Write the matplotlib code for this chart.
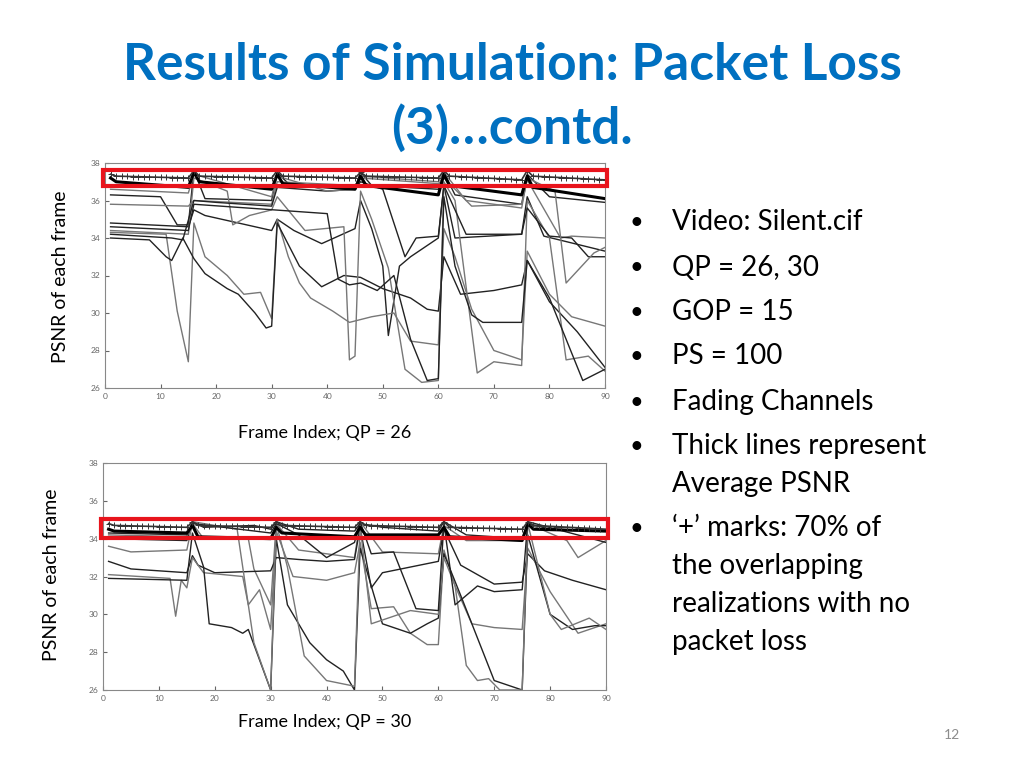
import matplotlib
matplotlib.use("Agg")
from matplotlib import pyplot as plt
from matplotlib.patches import Rectangle
import numpy as np

plt.rcParams['font.family'] = ['Lato', 'DejaVu Sans']

title_lines = ["Results of Simulation: Packet Loss", "(3)\u2026contd."]
bullets = [["Video: Silent.cif"], ["QP = 26, 30"], ["GOP = 15"], ["PS = 100"], ["Fading Channels"],
           ["Thick lines represent", "Average PSNR"],
           ["\u2018+\u2019 marks: 70% of", "the overlapping", "realizations with no", "packet loss"]]
xlabels = ["Frame Index; QP = 26", "Frame Index; QP = 30"]
ylabel = "PSNR of each frame"
red_box = [(36.75, 37.65), (34.05, 35.05)]

# QP = 26 realizations: (frames, psnr)
top_avg = ([1, 2, 15, 16, 17, 30, 31, 32, 45, 46, 47, 60, 61, 62, 75, 76, 77, 90],
           [37.2, 37.0, 36.7, 37.5, 37.0, 36.6, 37.4, 36.9, 36.6, 37.3, 36.8, 36.3, 37.4, 36.8, 36.3, 37.3, 36.7, 36.1])
top_plus = ([1, 2, 15, 16, 17, 30, 31, 32, 45, 46, 47, 60, 61, 62, 75, 76, 77, 90],
            [37.4, 37.3, 37.2, 37.6, 37.3, 37.2, 37.6, 37.3, 37.2, 37.5, 37.3, 37.2, 37.6, 37.3, 37.1, 37.6, 37.3, 37.1])
top_lines = [
    ([1, 10, 13, 15, 16, 18, 30, 31, 33, 45, 46, 48, 60, 61, 63, 75, 76, 80, 90],
     [36.3, 36.2, 34.7, 34.7, 37.6, 36.1, 36.0, 37.5, 36.9, 36.7, 37.5, 36.8, 36.6, 37.5, 36.3, 35.8, 37.4, 36.2, 35.9]),
    ([1, 15, 16, 30, 31, 45, 46, 60, 61, 66, 75, 76, 82, 84, 90],
     [35.8, 35.7, 36.0, 35.8, 37.0, 36.8, 37.2, 36.9, 37.2, 35.7, 35.8, 37.1, 34.0, 34.1, 34.0]),
    ([1, 15, 16, 18, 30, 31, 34, 39, 45, 46, 48, 50, 51, 53, 55, 60, 61, 63, 75, 76, 79, 90],
     [34.8, 34.6, 35.5, 35.2, 34.4, 35.0, 34.4, 33.7, 34.5, 36.0, 34.5, 32.5, 28.8, 32.5, 33.0, 34.0, 36.8, 34.0, 34.2, 36.2, 34.1, 33.3]),
    ([1, 11, 13, 15, 16, 18, 22, 25, 28, 30, 31, 33, 35, 37, 41, 44, 48, 52, 55, 60, 61, 63, 66, 70, 75, 76, 80, 84, 90],
     [34.3, 34.2, 30.1, 27.4, 34.8, 33.0, 32.0, 31.0, 31.1, 29.7, 35.0, 33.0, 31.6, 30.8, 30.1, 29.5, 29.8, 30.0, 28.5, 28.3, 34.5, 33.0, 30.2, 28.0, 27.5, 33.3, 31.0, 29.8, 29.3]),
    ([1, 8, 11, 12, 14, 16, 18, 22, 24, 27, 29, 30, 31, 35, 39, 43, 46, 50, 55, 58, 60, 61, 64, 70, 75, 76, 80, 85, 90],
     [34.0, 33.9, 33.0, 32.8, 34.0, 32.9, 32.1, 31.3, 31.0, 30.0, 29.2, 29.3, 34.8, 32.5, 31.4, 32.0, 31.9, 31.3, 30.8, 30.2, 30.1, 33.0, 31.0, 31.2, 31.5, 32.8, 30.6, 29.0, 27.1]),
    ([1, 15, 16, 22, 23, 26, 30, 31, 36, 43, 44, 45, 46, 48, 51, 54, 57, 60, 61, 63, 67, 70, 75, 76, 80, 83, 87, 90],
     [34.4, 34.2, 37.2, 36.5, 34.7, 35.2, 35.5, 36.2, 34.4, 34.6, 27.5, 27.7, 36.5, 35.0, 32.4, 27.0, 26.3, 26.4, 37.0, 36.0, 26.8, 27.4, 27.2, 36.0, 34.0, 27.5, 27.7, 26.9]),
    ([1, 12, 14, 16, 20, 30, 31, 40, 45, 46, 50, 54, 56, 60, 61, 65, 75, 76, 80, 84, 87, 90],
     [34.2, 34.0, 33.9, 36.0, 35.9, 35.7, 36.7, 36.5, 36.6, 37.0, 36.6, 33.0, 34.0, 34.1, 36.8, 34.2, 34.2, 35.6, 34.1, 34.0, 33.0, 33.0]),
    ([1, 15, 16, 30, 31, 40, 45, 46, 60, 61, 65, 75, 76, 81, 83, 88, 90],
     [36.6, 36.4, 37.4, 36.2, 37.3, 36.5, 36.6, 37.3, 37.0, 37.5, 36.0, 35.6, 37.2, 36.5, 31.6, 33.2, 33.5]),
    ([1, 15, 16, 40, 42, 44, 46, 49, 52, 55, 58, 60, 61, 63, 66, 68, 75, 76, 80, 86, 90],
     [34.6, 34.4, 35.8, 35.3, 31.8, 31.5, 31.6, 31.2, 32.0, 28.6, 26.4, 26.5, 36.2, 32.5, 29.9, 29.5, 29.5, 32.8, 30.8, 26.4, 27.0]),
]

# QP = 30 realizations
bot_avg = ([1, 2, 15, 16, 17, 30, 31, 32, 45, 46, 47, 60, 61, 62, 75, 76, 77, 90],
           [34.5, 34.4, 34.3, 34.7, 34.1, 34.0, 34.6, 34.3, 34.1, 34.6, 34.2, 34.2, 34.6, 34.1, 33.9, 34.8, 34.5, 34.4])
bot_plus = ([1, 2, 15, 16, 17, 30, 31, 32, 45, 46, 47, 60, 61, 62, 75, 76, 77, 90],
            [34.8, 34.7, 34.6, 34.9, 34.7, 34.6, 34.9, 34.7, 34.6, 34.9, 34.7, 34.6, 34.9, 34.6, 34.5, 34.9, 34.7, 34.5])
bot_lines = [
    ([1, 15, 16, 18, 27, 30, 31, 35, 45, 46, 50, 60, 61, 65, 75, 76, 80, 90],
     [34.0, 33.9, 34.9, 34.6, 34.7, 34.5, 34.9, 34.5, 34.4, 34.8, 34.6, 34.4, 34.9, 34.2, 34.0, 34.8, 34.5, 34.4]),
    ([1, 5, 15, 16, 18, 26, 27, 30, 31, 35, 45, 46, 50, 60, 61, 65, 75, 76, 83, 85, 90],
     [33.6, 33.3, 33.4, 34.8, 34.0, 34.0, 32.4, 30.5, 34.8, 33.4, 33.0, 34.9, 33.3, 33.2, 34.7, 33.9, 33.9, 34.8, 33.9, 33.0, 33.9]),
    ([1, 5, 15, 16, 17, 20, 30, 31, 35, 40, 45, 46, 48, 50, 60, 61, 64, 70, 75, 76, 79, 84, 90],
     [32.8, 32.4, 32.2, 33.1, 32.6, 32.2, 32.3, 33.0, 32.9, 32.8, 32.9, 34.6, 31.4, 32.2, 32.8, 34.5, 32.6, 31.6, 31.7, 33.2, 32.3, 31.8, 31.3]),
    ([1, 12, 13, 14, 15, 16, 18, 25, 26, 28, 30, 31, 34, 40, 45, 46, 48, 52, 55, 58, 60, 61, 63, 66, 70, 75, 76, 80, 85, 90],
     [32.1, 31.9, 29.9, 31.8, 31.4, 33.0, 32.2, 32.0, 30.5, 31.3, 29.2, 34.4, 32.0, 31.8, 32.2, 33.8, 30.3, 30.4, 29.0, 28.4, 28.4, 33.4, 31.5, 29.5, 29.3, 29.2, 33.5, 31.2, 29.0, 29.5]),
    ([1, 15, 16, 18, 19, 23, 25, 26, 30, 31, 33, 37, 40, 43, 45, 46, 50, 55, 58, 60, 61, 64, 70, 75, 76, 80, 84, 88, 90],
     [31.9, 31.8, 34.3, 32.5, 29.5, 29.3, 29.0, 29.2, 26.0, 34.0, 30.5, 28.5, 27.6, 27.0, 26.0, 33.5, 29.5, 29.0, 29.5, 29.8, 33.2, 31.0, 26.5, 26.0, 34.2, 30.0, 29.2, 29.4, 29.4]),
    ([1, 15, 16, 24, 27, 30, 31, 33, 36, 40, 45, 46, 48, 55, 60, 61, 63, 65, 67, 69, 71, 75, 76, 80, 82, 87, 90],
     [34.2, 34.1, 34.9, 34.5, 28.5, 26.0, 34.8, 32.5, 27.8, 26.5, 26.2, 34.7, 29.5, 30.2, 30.0, 33.0, 31.5, 27.3, 26.5, 26.6, 26.0, 26.0, 34.8, 30.0, 29.2, 29.8, 29.2]),
    ([1, 15, 16, 30, 31, 35, 40, 45, 46, 48, 52, 56, 60, 61, 63, 67, 70, 75, 76, 90],
     [34.3, 34.2, 34.8, 34.3, 34.8, 34.2, 33.0, 33.8, 34.9, 33.2, 33.3, 30.3, 30.2, 34.8, 30.5, 31.5, 31.2, 31.3, 34.9, 33.8]),
]


def draw_panel(ax, avg, plus, lines, box):
    colors = ['#222222', '#777777']
    for i, (fx, fy) in enumerate(lines):
        ax.plot(fx, fy, color=colors[i % 2], lw=1.0, zorder=2)
    ax.plot(avg[0], avg[1], color='black', lw=2.2, zorder=3)
    ax.plot(plus[0], plus[1], color='#333333', lw=1.2, zorder=3)
    px = list(range(1, 91))
    py = np.interp(px, plus[0], plus[1])
    ax.plot(px, py, ls='none', marker='+', ms=5, mew=0.7, color='#333333', zorder=3)
    ax.add_patch(Rectangle((-0.3, box[0]), 90.6, box[1] - box[0], fill=False,
                           ec='#e8141c', lw=3, zorder=5, clip_on=False))
    ax.set_xlim(0, 90)
    ax.set_ylim(26, 38)
    ax.set_xticks(range(0, 91, 10))
    ax.set_yticks(range(26, 39, 2))
    ax.tick_params(direction='in', labelsize=6, colors='#666666', length=3)
    for s in ax.spines.values():
        s.set_color('#888888')
        s.set_linewidth(0.8)


fig = plt.figure(figsize=(10.24, 7.68), dpi=100)
for txt, yy in zip(title_lines, [65, 128]):
    fig.text(0.5, 1 - yy / 768, txt, ha='center', va='center', fontsize=37,
             fontweight='bold', color='#0070C0')

ax1 = fig.add_axes([105 / 1024, 1 - 388 / 768, 500 / 1024, 225 / 768])
draw_panel(ax1, top_avg, top_plus, top_lines, red_box[0])
ax2 = fig.add_axes([103 / 1024, 1 - 690 / 768, 503 / 1024, 227 / 768])
draw_panel(ax2, bot_avg, bot_plus, bot_lines, red_box[1])

fig.text(60 / 1024, 1 - 277 / 768, ylabel, rotation=90, ha='center', va='center', fontsize=14)
fig.text(52 / 1024, 1 - 575 / 768, ylabel, rotation=90, ha='center', va='center', fontsize=14)
fig.text(325 / 1024, 1 - 433 / 768, xlabels[0], ha='center', va='center', fontsize=13)
fig.text(325 / 1024, 1 - 722 / 768, xlabels[1], ha='center', va='center', fontsize=13)

bullet_y = [222, 268, 312, 356, 402, 446, 528]
for lines_, yy in zip(bullets, bullet_y):
    fig.text(636 / 1024, 1 - yy / 768, "\u2022", ha='center', va='center', fontsize=17)
    for k, txt in enumerate(lines_):
        fig.text(672 / 1024, 1 - (yy + 38 * k) / 768, txt, ha='left', va='center', fontsize=20)

fig.text(952 / 1024, 1 - 735 / 768, "12", ha='center', va='center', fontsize=10, color='#8c8c8c')

fig.savefig("out.png", dpi=100)
